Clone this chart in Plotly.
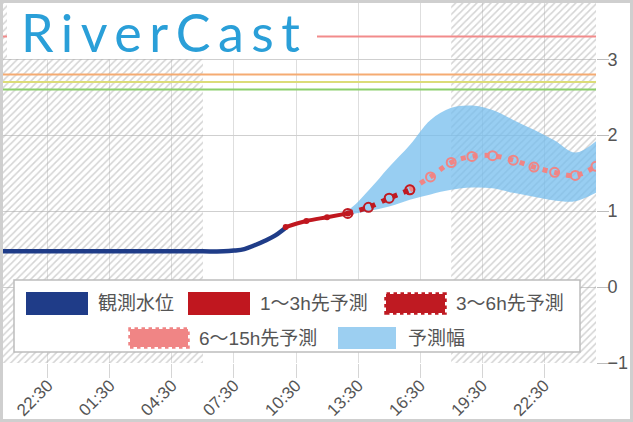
import plotly.graph_objects as go

# ---------------- data ----------------
obs_time = ["2024-06-01 20:00", "2024-06-01 21:00", "2024-06-01 22:00", "2024-06-01 23:00",
            "2024-06-02 00:00", "2024-06-02 01:00", "2024-06-02 02:00", "2024-06-02 03:00",
            "2024-06-02 04:00", "2024-06-02 05:00", "2024-06-02 06:00", "2024-06-02 07:00",
            "2024-06-02 07:30", "2024-06-02 08:00", "2024-06-02 08:30", "2024-06-02 09:00",
            "2024-06-02 09:30", "2024-06-02 10:00"]
obs_level = [0.47, 0.47, 0.47, 0.47, 0.47, 0.47, 0.47, 0.47, 0.47, 0.47, 0.47, 0.47,
             0.48, 0.50, 0.55, 0.61, 0.68, 0.78]

f13_time = ["2024-06-02 10:00", "2024-06-02 11:00", "2024-06-02 12:00", "2024-06-02 13:00"]
f13_level = [0.79, 0.87, 0.92, 0.97]

f36_time = ["2024-06-02 13:00", "2024-06-02 14:00", "2024-06-02 15:00", "2024-06-02 16:00"]
f36_level = [0.97, 1.05, 1.17, 1.28]

f615_time = ["2024-06-02 16:00", "2024-06-02 17:00", "2024-06-02 18:00", "2024-06-02 19:00",
             "2024-06-02 20:00", "2024-06-02 21:00", "2024-06-02 22:00", "2024-06-02 23:00",
             "2024-06-03 00:00", "2024-06-03 01:00"]
f615_level = [1.28, 1.45, 1.64, 1.72, 1.73, 1.67, 1.58, 1.51, 1.47, 1.59]

band_time = ["2024-06-02 12:00", "2024-06-02 13:00", "2024-06-02 14:00", "2024-06-02 15:00",
             "2024-06-02 16:00", "2024-06-02 17:00", "2024-06-02 18:00", "2024-06-02 19:00",
             "2024-06-02 20:00", "2024-06-02 21:00", "2024-06-02 22:00", "2024-06-02 23:00",
             "2024-06-03 00:00", "2024-06-03 01:00"]
band_low = [0.91, 0.95, 1.00, 1.06, 1.15, 1.22, 1.28, 1.31, 1.30, 1.24, 1.19, 1.14, 1.13, 1.24]
band_high = [0.93, 1.01, 1.27, 1.58, 1.87, 2.20, 2.36, 2.39, 2.33, 2.20, 2.07, 1.93, 1.77, 1.92]

# warning levels (water level thresholds)
level_values = [3.3, 2.8, 2.7, 2.6]
level_colors = ["#f28b8b", "#f5ab72", "#dcdc78", "#8ccf6c"]

# night (hatched) periods
night_start = ["2024-06-01 20:20", "2024-06-02 18:00"]
night_end = ["2024-06-02 06:00", "2024-06-03 01:00"]

x_range = ["2024-06-01 20:20", "2024-06-03 01:00"]
y_range = [-1, 3.74]

tick_times = ["2024-06-01 22:30", "2024-06-02 01:30", "2024-06-02 04:30", "2024-06-02 07:30",
              "2024-06-02 10:30", "2024-06-02 13:30", "2024-06-02 16:30", "2024-06-02 19:30",
              "2024-06-02 22:30"]
tick_labels = ["22:30", "01:30", "04:30", "07:30", "10:30", "13:30", "16:30", "19:30", "22:30"]
y_ticks = [-1, 0, 1, 2, 3]

series_names = ["観測水位", "1〜3h先予測", "3〜6h先予測", "6〜15h先予測", "予測幅"]
title_text = "RiverCast"

# ---------------- style ----------------
W, H = 633, 422
ML, MR, MT, MB = 3, 37, 3, 59
PW, PH = W - ML - MR, H - MT - MB
FONT = "Liberation Sans, Arial, Noto Sans CJK JP, sans-serif"
C_OBS = "#1f3c88"
C_F13 = "#c0171f"
C_F36 = "#bf1a22"
C_F615 = "#f08585"
C_BAND = "rgba(118,190,238,0.75)"


def px(x):
    return (x - ML) / PW


def py(y):
    return (H - MB - y) / PH


fig = go.Figure()

# hatched night areas
for s, e in zip(night_start, night_end):
    fig.add_trace(go.Scatter(
        x=[s, e, e, s, s], y=[y_range[0], y_range[0], y_range[1], y_range[1], y_range[0]],
        mode="lines", fill="toself", line=dict(width=0, color="rgba(0,0,0,0)"),
        fillcolor="rgba(0,0,0,0)",
        fillpattern=dict(shape="/", fgcolor="#a9a9a9", bgcolor="rgba(0,0,0,0)", size=5, solidity=0.3),
        hoverinfo="skip", showlegend=False))

# prediction band
fig.add_trace(go.Scatter(x=band_time, y=band_low, mode="lines", line=dict(width=0, shape="spline"),
                         showlegend=False, hoverinfo="skip"))
fig.add_trace(go.Scatter(x=band_time, y=band_high, mode="lines", line=dict(width=0, shape="spline"),
                         fill="tonexty", fillcolor=C_BAND, name=series_names[4], showlegend=False))

# observed
fig.add_trace(go.Scatter(x=obs_time, y=obs_level, mode="lines", name=series_names[0],
                         line=dict(color=C_OBS, width=4.5, shape="spline"), showlegend=False))
# 1-3h
fig.add_trace(go.Scatter(x=f13_time, y=f13_level, mode="lines+markers", name=series_names[1],
                         line=dict(color=C_F13, width=4, shape="spline"),
                         marker=dict(size=6, color=C_F13), showlegend=False))
# 6-15h
fig.add_trace(go.Scatter(x=f615_time, y=f615_level, mode="lines+markers", name=series_names[3],
                         line=dict(color=C_F615, width=5, dash="5px,7px", shape="spline"),
                         marker=dict(size=9, symbol="circle-open", color=C_F615, line=dict(width=2)),
                         showlegend=False))
# 3-6h
fig.add_trace(go.Scatter(x=f36_time, y=f36_level, mode="lines+markers", name=series_names[2],
                         line=dict(color=C_F36, width=5, dash="5px,7px", shape="spline"),
                         marker=dict(size=9, symbol="circle-open", color=C_F36, line=dict(width=2)),
                         showlegend=False))

shapes = []
# warning level lines
for v, c in zip(level_values, level_colors):
    shapes.append(dict(type="line", xref="paper", yref="y", x0=0, x1=1, y0=v, y1=v,
                       line=dict(color=c, width=2), layer="above"))

# logo box
shapes.append(dict(type="rect", xref="paper", yref="paper", x0=px(7), x1=px(317), y0=py(59), y1=py(3),
                   fillcolor="white", line=dict(width=0), layer="above"))

# legend box
shapes.append(dict(type="rect", xref="paper", yref="paper", x0=px(14), x1=px(580), y0=py(352), y1=py(280),
                   fillcolor="white", line=dict(color="#bdbdbd", width=1.5), layer="above"))

legend_items = [
    # (x0, x1, ytop, ybot, color, dotted, text_x)
    (26, 88, 292, 315, C_OBS, False, 96),
    (188, 250, 292, 315, C_F13, False, 258),
    (384, 447, 292, 315, C_F36, True, 454),
    (128, 190, 327, 349, C_F615, True, 197),
    (338, 396, 327, 349, "#9ccff1", False, 406),
]
annotations = []
for (x0, x1, yt, yb, col, dotted, tx), name in zip(legend_items, series_names):
    if dotted:
        shapes.append(dict(type="rect", xref="paper", yref="paper", x0=px(x0 + 2), x1=px(x1 - 2),
                           y0=py(yb - 2), y1=py(yt + 2), fillcolor=col,
                           line=dict(color=col, width=3.5, dash="dot"), layer="above"))
    else:
        shapes.append(dict(type="rect", xref="paper", yref="paper", x0=px(x0), x1=px(x1),
                           y0=py(yb), y1=py(yt), fillcolor=col, line=dict(width=0), layer="above"))
    annotations.append(dict(xref="paper", yref="paper", x=px(tx), y=py((yt + yb) / 2),
                            xanchor="left", yanchor="middle", showarrow=False, text=name,
                            font=dict(family=FONT, size=19, color="#555555")))

# outer frame
shapes.append(dict(type="rect", xref="paper", yref="paper", x0=px(1.5), x1=px(W - 1.5),
                   y0=py(H - 1.5), y1=py(1.5), line=dict(color="#cfcfcf", width=3),
                   fillcolor="rgba(0,0,0,0)", layer="above"))

annotations.append(dict(xref="paper", yref="paper", x=px(19), y=py(32), xanchor="left", yanchor="middle",
                        showarrow=False,
                        text='<span style="letter-spacing:7.5px">' + title_text + '</span>',
                        font=dict(family="Lato, Open Sans, sans-serif", size=52, color="#2a9fd8")))

fig.update_layout(
    width=W, height=H,
    margin=dict(l=ML, r=MR, t=MT, b=MB, pad=0, autoexpand=False),
    paper_bgcolor="white", plot_bgcolor="white",
    showlegend=False,
    shapes=shapes, annotations=annotations,
    xaxis=dict(type="date", range=x_range, tickvals=tick_times, ticktext=tick_labels,
               tickangle=-45, ticks="outside", ticklen=14, tickcolor="#d5d5d5", automargin=False,
               ticklabelstandoff=-9,
               showgrid=True, gridcolor="#dedede", gridwidth=1, zeroline=False, showline=False,
               tickfont=dict(family=FONT, size=17, color="#555555")),
    yaxis=dict(range=y_range, tickvals=y_ticks, side="right", ticks="outside", ticklen=12,
               tickcolor="#bdbdbd", showgrid=True, gridcolor="#cfcfcf", gridwidth=1.2,
               zeroline=False, showline=False, automargin=False, ticklabelstandoff=-5,
               tickfont=dict(family=FONT, size=18, color="#555555")),
)

fig.write_html("out.html")
